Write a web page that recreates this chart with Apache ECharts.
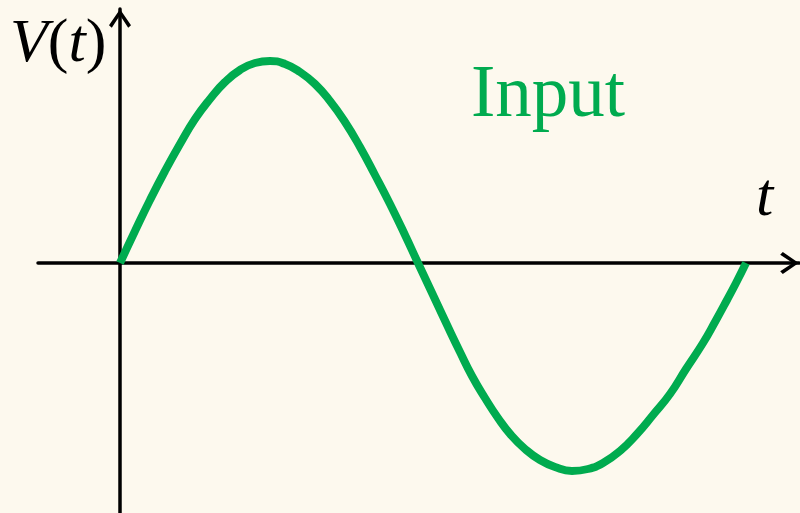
<!DOCTYPE html>
<html>
<head>
<meta charset="utf-8">
<style>
html,body{margin:0;padding:0;background:#fdf9ee;}
#c{width:800px;height:513px;}
</style>
<script src="https://cdn.jsdelivr.net/npm/echarts@6/dist/echarts.min.js"></script>
</head>
<body>
<div id="c"></div>
<script>
// Time samples (arbitrary units) and input voltage
const timeValues = [0, 15, 30, 45, 60, 75, 90, 105, 120, 135, 150, 165, 180, 195, 210, 225, 240, 255, 270, 285, 298,
  313, 328, 340, 352, 365, 378, 391, 405, 420, 435, 452, 468, 483, 500, 517, 533, 550, 566, 583, 595, 607, 616, 626];
const inputValues = [0, 32, 63, 92, 119, 144, 164, 181, 193, 200, 202, 199, 191, 179, 162, 141, 116, 88, 59, 28, 0,
  -32, -64, -89, -113, -135, -155, -172, -186, -197, -204, -208, -206, -200, -188, -171, -152, -131, -106, -80, -59, -37, -20, 0];
const seriesName = 'Input';
const xAxisName = 't';

const chevron = 'path://M11,0L22,16L19.2,18.6L11,6L2.8,18.6L0,16Z';

const chart = echarts.init(document.getElementById('c'), null, {renderer: 'canvas'});
const option = {
  backgroundColor: '#fdf9ee',
  animation: false,
  grid: {left: 38, right: 1, top: 9, bottom: 0, containLabel: false},
  xAxis: {
    type: 'value', min: -82, max: 679,
    axisLine: {onZero: true, lineStyle: {color: '#000', width: 3.5},
      symbol: ['none', chevron], symbolSize: [22, 19], symbolOffset: [0, -9.5]},
    axisTick: {show: false}, axisLabel: {show: false}, splitLine: {show: false}
  },
  yAxis: {
    type: 'value', min: -250, max: 254,
    axisLine: {onZero: true, lineStyle: {color: '#000', width: 3.5},
      symbol: ['none', chevron], symbolSize: [22, 19], symbolOffset: [0, -9.5]},
    axisTick: {show: false}, axisLabel: {show: false}, splitLine: {show: false}
  },
  series: [{
    name: seriesName,
    type: 'line',
    data: timeValues.map((t, i) => [t, inputValues[i]]),
    showSymbol: false,
    smooth: 0.5,
    lineStyle: {color: '#00ab4f', width: 8, cap: 'butt', join: 'round'},
    z: 1
  }],
  graphic: [
    {type: 'text', left: 10, top: 14, z: 10, style: {
      text: '{i|V}{n|(}{i|t}{n|)}',
      rich: {
        i: {fontFamily: 'Liberation Serif', fontStyle: 'italic', fontSize: 62, fill: '#000'},
        n: {fontFamily: 'Liberation Serif', fontSize: 62, fill: '#000'}
      }
    }},
    {type: 'text', left: 471, top: 60, z: 10, style: {
      text: seriesName, fontFamily: 'Liberation Serif', fontSize: 73, fill: '#00ab4f'
    }},
    {type: 'text', left: 756, top: 168, z: 10, style: {
      text: xAxisName, fontFamily: 'Liberation Serif', fontStyle: 'italic', fontSize: 62, fill: '#000'
    }}
  ]
};
chart.setOption(option);
</script>
</body>
</html>
